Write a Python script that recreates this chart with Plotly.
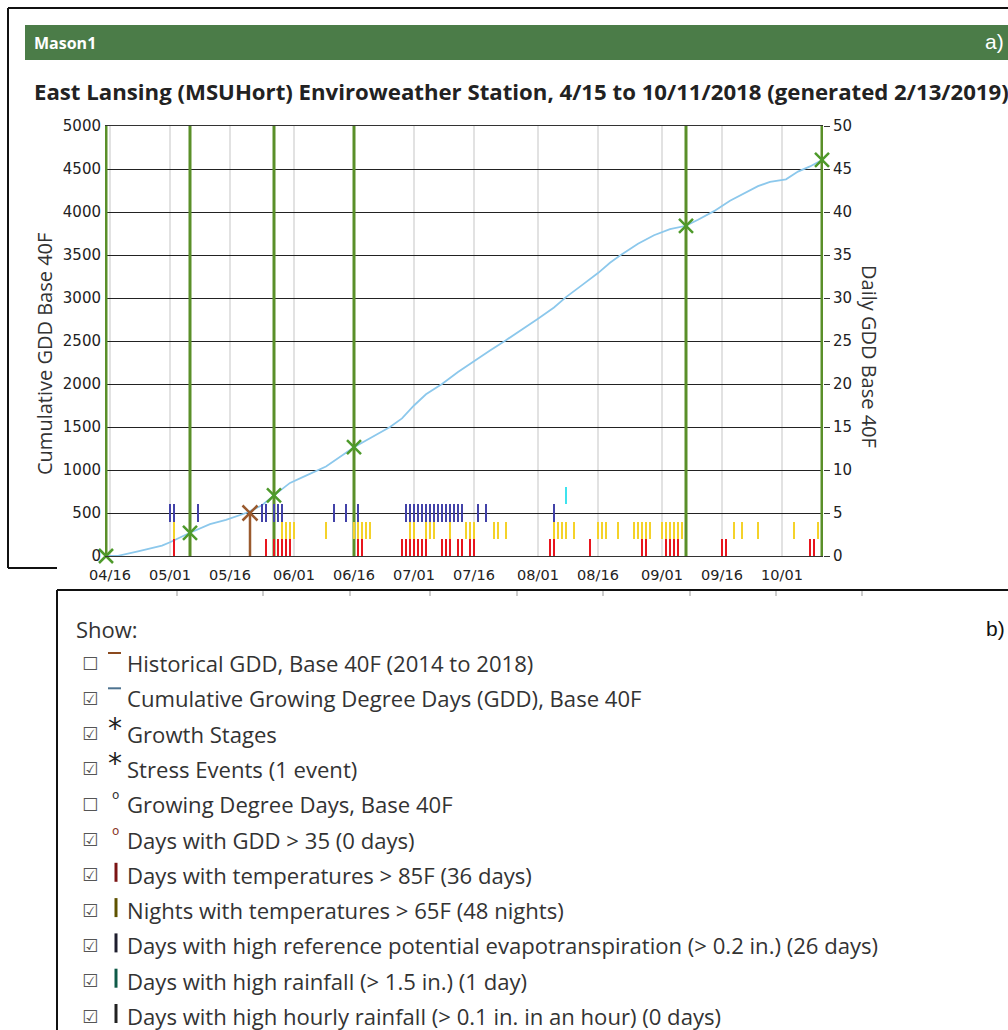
import plotly.graph_objects as go
import pandas as pd

# ---------------- data ----------------
YEAR = 2018
tick_dates = ["4/16", "5/1", "5/16", "6/1", "6/16", "7/1", "7/16", "8/1", "8/16", "9/1", "9/16", "10/1"]
tick_labels = ["04/16", "05/01", "05/16", "06/01", "06/16", "07/01", "07/16", "08/01", "08/16", "09/01", "09/16", "10/01"]

gdd_dates = ["4/15", "4/18", "4/23", "4/29", "5/1", "5/6", "5/11", "5/15", "5/20", "5/24", "5/27", "5/31",
             "6/4", "6/9", "6/16", "6/22", "6/25", "6/28", "7/1", "7/4", "7/8", "7/12", "7/16", "7/20",
             "7/24", "7/28", "8/1", "8/5", "8/8", "8/12", "8/16", "8/19", "8/22", "8/26", "8/30", "9/3",
             "9/7", "9/10", "9/14", "9/18", "9/22", "9/25", "9/28", "10/2", "10/5", "10/8", "10/11"]
gdd_values = [0, 2, 55, 120, 160, 270, 370, 420, 500, 590, 705, 850,
              935, 1040, 1265, 1420, 1500, 1600, 1750, 1880, 2000, 2140, 2270, 2390,
              2510, 2630, 2760, 2890, 3010, 3150, 3290, 3410, 3510, 3630, 3730, 3800,
              3840, 3910, 4010, 4130, 4230, 4300, 4350, 4380, 4470, 4530, 4605]

growth_stage_dates = ["4/15", "5/6", "5/27", "6/16", "9/7", "10/11"]
growth_stage_gdd = [0, 270, 705, 1265, 3840, 4605]

stress_dates = ["5/21"]
stress_gdd = [500]

hot_day_dates = ["5/2", "5/25", "5/27", "5/28", "5/29", "5/30", "5/31", "6/17", "6/18",
                 "6/28", "6/29", "6/30", "7/1", "7/2", "7/3", "7/4", "7/8", "7/9", "7/10",
                 "7/12", "7/13", "7/15", "7/16", "8/4", "8/5", "8/14", "8/27", "8/28",
                 "9/2", "9/3", "9/4", "9/5", "9/16", "9/17", "10/8", "10/9"]
warm_night_dates = ["5/2", "5/29", "5/30", "5/31", "6/1", "6/9", "6/16", "6/17", "6/18", "6/19", "6/20",
                    "6/30", "7/1", "7/4", "7/5", "7/6", "7/10", "7/14", "7/15", "7/16", "7/21", "7/22",
                    "7/24", "8/5", "8/6", "8/7", "8/8", "8/10", "8/16", "8/17", "8/18", "8/21",
                    "8/25", "8/26", "8/27", "8/28", "8/29", "9/1", "9/2", "9/3", "9/4", "9/5", "9/6",
                    "9/19", "9/21", "9/25", "10/4", "10/10"]
high_et_dates = ["5/1", "5/2", "5/8", "5/24", "5/25", "5/27", "5/28", "5/29", "6/11", "6/14", "6/17",
                 "6/29", "6/30", "7/1", "7/2", "7/3", "7/4", "7/5", "7/6", "7/7", "7/8", "7/9", "7/10",
                 "7/11", "7/12", "7/13", "7/17", "7/19", "8/5"]
high_rain_dates = ["8/8"]

# indicator bands on the daily GDD axis (base, height)
hot_day_band = (0, 2)
warm_night_band = (2, 2)
high_et_band = (4, 2)
high_rain_band = (6, 2)

legend_rows = [
    ("Historical GDD, Base 40F (2014 to 2018)", False),
    ("Cumulative Growing Degree Days (GDD), Base 40F", True),
    ("Growth Stages", True),
    ("Stress Events (1 event)", True),
    ("Growing Degree Days, Base 40F", False),
    ("Days with GDD > 35 (0 days)", True),
    ("Days with temperatures > 85F (36 days)", True),
    ("Nights with temperatures > 65F (48 nights)", True),
    ("Days with high reference potential evapotranspiration (> 0.2 in.) (26 days)", True),
    ("Days with high rainfall (> 1.5 in.) (1 day)", True),
    ("Days with high hourly rainfall (> 0.1 in. in an hour) (0 days)", True),
]


def to_dates(md):
    return [pd.Timestamp(f"{YEAR}-{s.split('/')[0]}-{s.split('/')[1]}").strftime("%Y-%m-%d") for s in md]


# ---------------- geometry ----------------
W, H = 1008, 1030
PL, PR, PT, PB = 105, 823, 126, 556


def xp(px):
    return (px - PL) / (PR - PL)


def yp(py):
    return (PB - py) / (PB - PT)


FONT = "Open Sans"
TICKFONT = "DejaVu Sans"
GREEN = "#5A8F29"
MARK_GREEN = "#4E9A2B"
BROWN = "#9A5A2E"

fig = go.Figure()

# growth stage vertical lines
gx, gy = [], []
for d in to_dates(growth_stage_dates):
    gx += [d, d, None]
    gy += [0, 5000, None]
fig.add_trace(go.Scatter(x=gx, y=gy, mode="lines", line=dict(color=GREEN, width=3), hoverinfo="skip"))

# indicator bars (secondary axis)
DAY_MS = 86400000
for dates, band, color in [
    (hot_day_dates, hot_day_band, "#E8161E"),
    (warm_night_dates, warm_night_band, "#F4D22A"),
    (high_et_dates, high_et_band, "#4242A8"),
    (high_rain_dates, high_rain_band, "#3EE3EE"),
]:
    xs = to_dates(dates)
    fig.add_trace(go.Bar(x=xs, y=[band[1]] * len(xs), base=[band[0]] * len(xs),
                         width=0.68 * DAY_MS, marker=dict(color=color, line=dict(width=0)),
                         yaxis="y2", hoverinfo="skip"))

# cumulative GDD
fig.add_trace(go.Scatter(x=to_dates(gdd_dates), y=gdd_values, mode="lines",
                         line=dict(color="#8CC8EC", width=1.8)))

# stress event
sd = to_dates(stress_dates)
sx, sy = [], []
for d, v in zip(sd, stress_gdd):
    sx += [d, d, None]
    sy += [0, v, None]
fig.add_trace(go.Scatter(x=sx, y=sy, mode="lines", line=dict(color=BROWN, width=2.5)))
fig.add_trace(go.Scatter(x=sd, y=stress_gdd, mode="markers", cliponaxis=False,
                         marker=dict(symbol="x-thin-open", size=15, color=BROWN,
                                     line=dict(color=BROWN, width=2.5))))

# growth stage markers
fig.add_trace(go.Scatter(x=to_dates(growth_stage_dates), y=growth_stage_gdd, mode="markers", cliponaxis=False,
                         marker=dict(symbol="x-thin-open", size=14, color=MARK_GREEN,
                                     line=dict(color=MARK_GREEN, width=2.5))))

shapes = []
annotations = []


def line(x0, y0, x1, y1, color="#111", width=2):
    shapes.append(dict(type="line", xref="paper", yref="paper", x0=xp(x0), y0=yp(y0), x1=xp(x1), y1=yp(y1),
                       line=dict(color=color, width=width), layer="above"))


def text(t, x, y, size, color="#333", family=FONT, xanchor="left", yanchor="middle", angle=0):
    annotations.append(dict(text=t, x=xp(x), y=yp(y), xref="paper", yref="paper", showarrow=False,
                            xanchor=xanchor, yanchor=yanchor, textangle=angle,
                            font=dict(size=size, color=color, family=family)))


# header bar
shapes.append(dict(type="rect", xref="paper", yref="paper", x0=xp(25), x1=xp(1012), y0=yp(25), y1=yp(60),
                   fillcolor="#4B7C48", line=dict(width=0), layer="below"))
text("<b>Mason1</b>", 32, 43, 16, "white")
text("a)", 1006, 42, 21, "white", "Liberation Sans", xanchor="right")
text("<b>East Lansing (MSUHort) Enviroweather Station, 4/15 to 10/11/2018 (generated 2/13/2019)</b>",
     32, 91, 22.2, "#222")

# axis titles
text("Cumulative GDD Base 40F", 44, 354, 20, "#333", angle=-90, xanchor="center")
text("Daily GDD Base 40F", 870, 357, 20, "#333", angle=90, xanchor="center")

# part a border
line(8, 8, 1010, 8)
line(8, 8, 8, 568)
line(8, 568, 57, 568)

# part b box
line(57, 590, 1012, 590)
line(57, 590, 57, 1032)
for tx in [177, 263, 350, 430, 517, 603, 690, 776, 862]:
    line(tx, 591, tx, 596, color="#999", width=1)

text("Show:", 74, 629, 22, "#333")
text("b)", 1007, 628, 21, "#111", "Liberation Sans", xanchor="right")

row_y0, row_dy = 663, 35.3
marker_colors = ["#8B4A1E", "#4E7390", "#222", "#222", "#333", "#8B3A2B",
                 "#7B1414", "#5E5200", "#1E1E2E", "#0F5A48", "#222"]
for i, (lab, checked) in enumerate(legend_rows):
    y = row_y0 + i * row_dy
    text("\u2611" if checked else "\u2610", 80, y, 18, "#555", "DejaVu Sans")
    text(lab, 125, y, 22.1, "#333")
    c = marker_colors[i]
    if i in (0, 1):
        line(108, y - 10, 121, y - 10, color=c, width=2)
    elif i in (2, 3):
        text("*", 106, y - 5, 28, c, "DejaVu Sans")
    elif i in (4, 5):
        text("o", 110, y - 9, 12, c, "DejaVu Sans")
    else:
        line(116, y - 12, 116, y + 7, color=c, width=3)

fig.update_layout(
    width=W, height=H,
    margin=dict(l=PL, r=W - PR, t=PT, b=H - PB, pad=0),
    paper_bgcolor="white", plot_bgcolor="white",
    showlegend=False, barmode="overlay", bargap=0,
    font=dict(family=FONT, color="#333"),
    xaxis=dict(type="date", range=["2018-04-14 18:00", "2018-10-11 06:00"],
               tickvals=to_dates(tick_dates), ticktext=tick_labels,
               showgrid=True, gridcolor="#E2E2E2", gridwidth=1.5,
               showline=True, mirror=True, linecolor="#333", linewidth=1,
               ticks="", ticklabelstandoff=6,
               tickfont=dict(family=TICKFONT, size=14.5, color="#222"), zeroline=False),
    yaxis=dict(range=[0, 5000], dtick=500, tick0=0, showgrid=True, gridcolor="#222", gridwidth=1,
               zeroline=False, showline=False, ticks="", ticklabelstandoff=3,
               tickfont=dict(family=TICKFONT, size=15, color="#222")),
    yaxis2=dict(range=[0, 50], dtick=5, tick0=0, overlaying="y", side="right", showgrid=False,
                zeroline=False, showline=False, ticks="outside", ticklen=6, tickcolor="#333",
                tickfont=dict(family=TICKFONT, size=15, color="#222")),
    shapes=shapes, annotations=annotations,
)

fig.write_html("out.html", config={"displayModeBar": False},
               post_script="document.body.style.margin='0';")
